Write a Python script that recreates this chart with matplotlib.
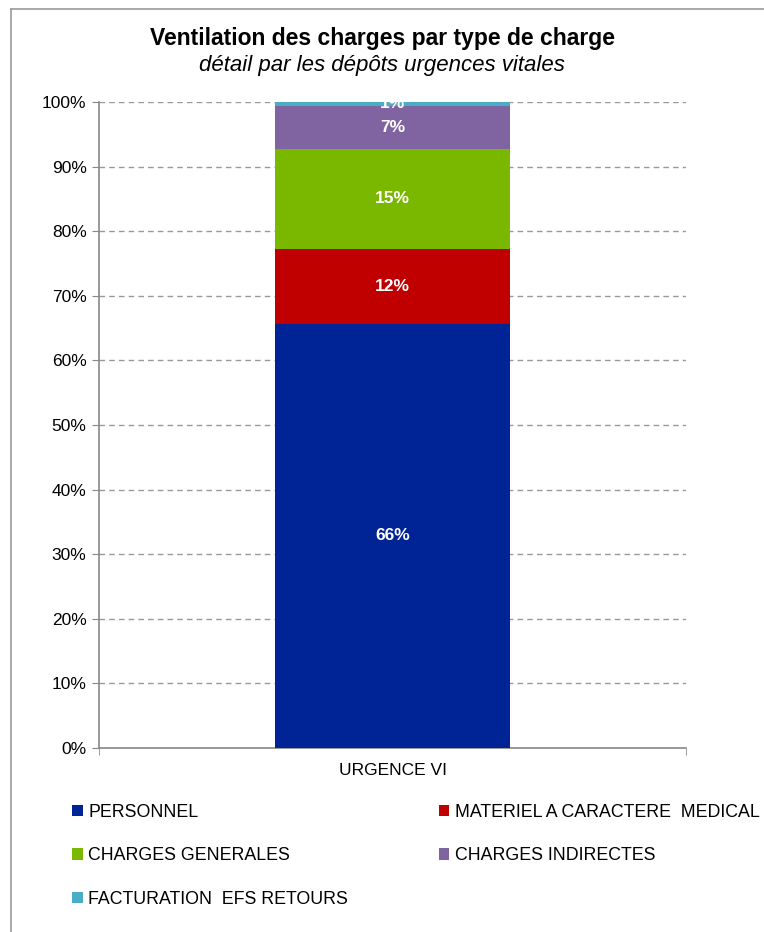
import matplotlib
matplotlib.use("Agg")
import matplotlib.pyplot as plt
from matplotlib.lines import Line2D
from matplotlib.ticker import PercentFormatter

plt.rcParams['font.family'] = ['Liberation Sans', 'DejaVu Sans']

# Data (share of total charges, %)
categories = ['URGENCE VI']
series = ['PERSONNEL', 'MATERIEL A CARACTERE  MEDICAL', 'CHARGES GENERALES',
          'CHARGES INDIRECTES', 'FACTURATION  EFS RETOURS']
values = [65.7, 11.6, 15.4, 6.7, 0.6]
colors = ['#002395', '#C00000', '#7AB800', '#8064A2', '#4BACC6']

fig = plt.figure(figsize=(7.64, 9.32), dpi=100)
ax = fig.add_axes([99 / 764, 1 - 748 / 932, 587 / 764, 646 / 932])

# Stacked bar
bottom = 0
handles = []
for name, v, c in zip(series, values, colors):
    bars = ax.bar(categories, [v], bottom=[bottom], width=0.4, color=c, zorder=3)
    handles.append(bars)
    ax.text(0, bottom + v / 2, f"{v:.0f}%", ha='center', va='center',
            color='white', fontsize=12.5, fontweight='bold', zorder=4, clip_on=True)
    bottom += v

ax.set_xlim(-0.5, 0.5)
ax.set_ylim(0, 100)
ax.set_yticks(range(0, 101, 10))
ax.yaxis.set_major_formatter(PercentFormatter(decimals=0))
ax.grid(axis='y', linestyle=(0, (4, 3)), color='#999999', linewidth=1, zorder=0)

for side in ['top', 'right']:
    ax.spines[side].set_visible(False)
for side in ['left', 'bottom']:
    ax.spines[side].set_color('#888888')
    ax.spines[side].set_linewidth(1.2)
ax.tick_params(axis='y', length=5, color='#888888', labelsize=12.5, pad=4)
ax.set_xticks([-0.5, 0.5], minor=True)
ax.tick_params(axis='x', which='major', length=0, labelsize=12.5, pad=11)
ax.tick_params(axis='x', which='minor', length=5, color='#888888')

# Titles
fig.text(0.5, 1 - 38 / 932, 'Ventilation des charges par type de charge',
         ha='center', va='center', fontsize=16.5, fontweight='bold')
fig.text(0.5, 1 - 65 / 932, 'détail par les dépôts urgences vitales',
         ha='center', va='center', fontsize=16, style='italic')

# Outer frame (only left and top edges visible)
fig.add_artist(Line2D([11 / 764, 11 / 764], [0, 1 - 9 / 932], color='#999999',
                      linewidth=1.2, transform=fig.transFigure))
fig.add_artist(Line2D([11 / 764, 1], [1 - 9 / 932, 1 - 9 / 932], color='#999999',
                      linewidth=1.2, transform=fig.transFigure))

# Legend, row-major in two columns
order = [0, 2, 4, 1, 3]
fig.legend([handles[i] for i in order], [series[i] for i in order],
           ncol=2, loc='upper left', bbox_to_anchor=(72 / 764, 1 - 804 / 932),
           frameon=False, fontsize=12.8, handlelength=0.6, handleheight=0.6,
           handletextpad=0.3, columnspacing=5.1, labelspacing=1.48,
           borderaxespad=0, borderpad=0)

fig.savefig('out.png', dpi=100)
